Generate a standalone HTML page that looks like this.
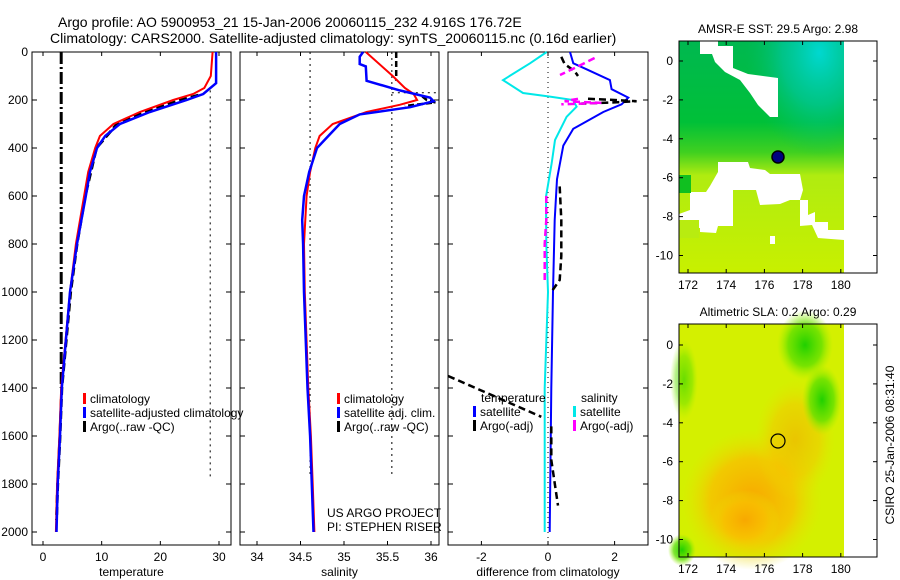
<!DOCTYPE html>
<html><head><meta charset="utf-8"><style>
html,body{margin:0;padding:0;background:#fff;}
svg{display:block;font-family:"Liberation Sans",sans-serif;}
</style></head><body>
<svg id="fig" width="900" height="580" viewBox="0 0 900 580">
<defs>
<linearGradient id="sstBase" x1="0" y1="0" x2="0" y2="1">
<stop offset="0" stop-color="#00b850"/><stop offset="0.35" stop-color="#00c038"/>
<stop offset="0.48" stop-color="#40d020"/><stop offset="0.58" stop-color="#b0ec10"/>
<stop offset="1" stop-color="#c8f000"/></linearGradient>
<radialGradient id="sstCyan" cx="0.85" cy="0.05" r="0.45"><stop offset="0" stop-color="#00d8d0"/><stop offset="0.5" stop-color="#00c8a0" stop-opacity="0.7"/><stop offset="1" stop-color="#00c060" stop-opacity="0"/></radialGradient>
<radialGradient id="slaOrange" cx="0.5" cy="0.5" r="0.5"><stop offset="0" stop-color="#f8a800"/><stop offset="0.6" stop-color="#f8c000" stop-opacity="0.8"/><stop offset="1" stop-color="#e8e000" stop-opacity="0"/></radialGradient>
<radialGradient id="slaGreen" cx="0.5" cy="0.5" r="0.5"><stop offset="0" stop-color="#20d000"/><stop offset="0.6" stop-color="#60e000" stop-opacity="0.8"/><stop offset="1" stop-color="#a0f000" stop-opacity="0"/></radialGradient>
</defs>
<g id="layer"></g>
</svg>
<script>
// ---------- data ----------
const climDepth = [0,100,150,175,200,250,300,350,400,500,600,800,1000,1400,1600,1800,2000];
const climTemp = [28.9,28.6,27.5,25.6,22.2,16.5,12.0,9.7,8.9,7.7,7.0,5.6,4.6,3.1,2.8,2.4,2.2];
const satTempDepth = [0,130,175,200,250,300,350,400,500,600,800,1000,1400,1600,1800,2000];
const satTemp = [29.5,29.5,27.3,24.5,18.2,13.1,10.6,9.2,8.0,7.3,5.8,4.6,3.2,2.9,2.5,2.3];
const argoTempDepth = [180,200,250,300,400,600,800,1000,1400,1600,1800,1950];
const argoTemp = [26.5,23.5,17.5,12.6,9.1,7.2,5.8,4.7,3.2,2.9,2.5,2.3];
const argoRawTempDepth = [0,1400];
const argoRawTemp = [3.1,3.1];
const climSalDepth = [0,100,150,175,200,220,250,300,350,400,500,600,800,1000,1400,1600,1800,2000];
const climSal = [35.25,35.56,35.70,35.80,35.84,35.64,35.26,34.87,34.72,34.67,34.61,34.57,34.54,34.55,34.59,34.62,34.64,34.66];
const satSalDepth = [0,20,50,60,120,160,190,205,230,260,300,350,400,500,600,700,800,1000,1400,1600,2000];
const satSal = [35.22,35.18,35.18,35.25,35.26,35.64,35.99,36.03,35.76,35.18,34.95,34.82,34.69,34.60,34.54,34.52,34.53,34.54,34.58,34.61,34.65];
const argoSalDepth = [0,120,null,185,200,210,225];
const argoSal = [35.6,35.6,null,35.9,35.95,36.05,35.7];
const dTsatDepth = [0,47,72,117,155,190,218,250,320,390,530,700,1000,1400,2000];
const dTsat = [0.66,0.76,1.16,1.86,1.91,2.41,2.21,1.66,0.76,0.46,0.27,0.2,0.15,0.1,0.05];
const dSsatDepth = [0,47,117,171,186,200,228,270,367,463,603,800,1000,1400,2000];
const dSsat = [-0.04,-0.54,-1.35,-0.75,0.06,0.75,0.86,0.56,0.21,0.11,-0.06,-0.05,0,-0.1,-0.1];
const dTargoDepth = [20,50,80,100,null,195,200,205,210,215,null,560,700,850,950,1000,null,1350,1520,null,1560,1700,1890];
const dTargo = [0.4,0.5,0.8,0.9,null,1.2,2.0,2.66,2.0,1.0,null,0.35,0.4,0.4,0.35,0.1,null,-3,-0.2,null,0.1,0.1,0.3];
const dSargoDepth = [25,60,96,null,195,205,212,218,null,600,700,800,950];
const dSargo = [1.4,0.9,0.36,null,0.9,0.5,1.6,0.4,null,-0.05,-0.05,-0.1,-0.1];
const depthTicks = [0,200,400,600,800,1000,1200,1400,1600,1800,2000];
const tempTicks = [0,10,20,30];
const salTicks = [34,34.5,35,35.5,36];
const diffTicks = [-2,0,2];
const lonTicks = [172,174,176,178,180];
const latTicks = [0,-2,-4,-6,-8,-10];

// ---------- helpers ----------
const NS='http://www.w3.org/2000/svg';
const layer=document.getElementById('layer');
function mk(tag,attrs,parent){const e=document.createElementNS(NS,tag);for(const k in attrs)e.setAttribute(k,attrs[k]);(parent||layer).appendChild(e);return e;}
const yD = d => 52 + d*0.24;
const xT = v => 43 + v*5.867;
const xS = v => 257 + (v-34)*87;
const xDf = v => 548 + v*33.3;
const panels=[{x0:32,x1:231,sx:xT,ticks:tempTicks,label:'temperature',name:'temperature-panel'},
 {x0:240,x1:439,sx:xS,ticks:salTicks,label:'salinity',name:'salinity-panel'},
 {x0:448,x1:648,sx:xDf,ticks:diffTicks,label:'difference from climatology',name:'difference-panel'}];
function line(depths,vals,sx,color,w,dash,name){
  let d='',pen=false;
  for(let i=0;i<depths.length;i++){
    if(depths[i]===null||vals[i]===null){pen=false;continue;}
    d+=(pen?'L':'M')+sx(vals[i]).toFixed(1)+' '+yD(depths[i]).toFixed(1);pen=true;}
  const p=mk('path',{d:d,fill:'none',stroke:color,'stroke-width':w});
  if(dash)p.setAttribute('stroke-dasharray',dash);
  
  
  return p;
}
function text(x,y,s,opts,name){
  const t=mk('text',Object.assign({x:x,y:y,'font-size':12,fill:'#000'},opts||{}));
  t.textContent=s;
  
  
  return t;
}

// titles
text(58,27,'Argo profile: AO 5900953_21 15-Jan-2006 20060115_232 4.916S 176.72E',{'font-size':14},'title-line-1');
text(50,43,'Climatology: CARS2000. Satellite-adjusted climatology: synTS_20060115.nc (0.16d earlier)',{'font-size':14},'title-line-2');

// panels
panels.forEach((p,pi)=>{
  const r=mk('rect',{x:p.x0,y:52,width:p.x1-p.x0,height:493,fill:'none',stroke:'#000','stroke-width':1});
  
  
  depthTicks.forEach(d=>{
    mk('line',{x1:p.x0,x2:p.x0+5,y1:yD(d),y2:yD(d),stroke:'#000'});
    mk('line',{x1:p.x1-5,x2:p.x1,y1:yD(d),y2:yD(d),stroke:'#000'});
    if(pi===0) text(28,yD(d)+4,String(d),{'text-anchor':'end'},'depth-tick-label');
  });
  p.ticks.forEach(v=>{
    const x=p.sx(v);
    mk('line',{x1:x,x2:x,y1:545,y2:541,stroke:'#000'});
    mk('line',{x1:x,x2:x,y1:52,y2:56,stroke:'#000'});
    text(x,561,String(v),{'text-anchor':'middle'},'x-tick-label');
  });
  text((p.x0+p.x1)/2,576,p.label,{'text-anchor':'middle'},'x-axis-title');
});

// reference dotted lines
mk('line',{x1:xT(28.5),x2:xT(28.5),y1:yD(160),y2:yD(1770),stroke:'#000','stroke-dasharray':'2 4'});
mk('line',{x1:xS(34.61),x2:xS(34.61),y1:yD(0),y2:yD(1770),stroke:'#000','stroke-dasharray':'2 4'});
mk('line',{x1:xS(35.55),x2:xS(35.55),y1:yD(0),y2:yD(1770),stroke:'#000','stroke-dasharray':'2 4'});
mk('line',{x1:xS(35.55),x2:439,y1:yD(170),y2:yD(170),stroke:'#000','stroke-dasharray':'2 4'});
mk('line',{x1:xDf(0),x2:xDf(0),y1:52,y2:545,stroke:'#000','stroke-dasharray':'1 4'});

// series
line(argoRawTempDepth,argoRawTemp,xT,'#000',3,'12 3 2 3','argo-raw-temperature');
line(argoTempDepth,argoTemp,xT,'#000',3,'8 4','argo-temperature');
line(climDepth,climTemp,xT,'#ff0000',2,null,'climatology-temperature');
line(satTempDepth,satTemp,xT,'#0000ff',2.5,null,'satellite-temperature');
line(argoSalDepth,argoSal,xS,'#000',2.5,'6 3','argo-salinity');
line(climSalDepth,climSal,xS,'#ff0000',2,null,'climatology-salinity');
line(satSalDepth,satSal,xS,'#0000ff',2.5,null,'satellite-salinity');
line(dSsatDepth,dSsat,xDf,'#00e8e8',2,null,'salinity-satellite-diff');
line(dTsatDepth,dTsat,xDf,'#0000ff',2,null,'temperature-satellite-diff');
line(dTargoDepth,dTargo,xDf,'#000',2.5,'7 4','temperature-argo-diff');
line(dSargoDepth,dSargo,xDf,'#ff00ff',2.5,'7 4','salinity-argo-diff');

// legends
function leg(x,y,color,label){
  if(color){const b=mk('rect',{x:x,y:y-10,width:3,height:11,fill:color});
    
    }
  text(x+7,y,label,{},'legend-entry');
}
leg(83,403,'#ff0000','climatology');leg(83,417,'#0000ff','satellite-adjusted climatology');leg(83,431,'#000','Argo(..raw -QC)');
leg(337,403,'#ff0000','climatology');leg(337,417,'#0000ff','satellite adj. clim.');leg(337,431,'#000','Argo(..raw -QC)');
text(481,402,'temperature',{},'legend-heading-temperature');
leg(473,416,'#0000ff','satellite');leg(473,430,'#000','Argo(-adj)');
text(581,402,'salinity',{},'legend-heading-salinity');
leg(573,416,'#00e8e8','satellite');leg(573,430,'#ff00ff','Argo(-adj)');
text(327,517,'US ARGO PROJECT',{},'project-label');
text(327,531,'PI: STEPHEN RISER',{},'pi-label');

// maps
const xLon = v => 688 + (v-172)*19.1;
function mapAxes(y0,y1,lat0,name,title){
  const yLat = v => lat0 + (-v)*19.45;
  text(778,y0-8,title,{'text-anchor':'middle'},name+'-title');
  const r=mk('rect',{x:679,y:y0,width:198,height:y1-y0,fill:'none',stroke:'#000'});
  
  
  lonTicks.forEach(v=>{const x=xLon(v);
    mk('line',{x1:x,x2:x,y1:y1,y2:y1-4,stroke:'#000'});mk('line',{x1:x,x2:x,y1:y0,y2:y0+4,stroke:'#000'});
    text(x,y1+16,String(v),{'text-anchor':'middle'},'lon-tick-label');});
  latTicks.forEach(v=>{const y=yLat(v);
    mk('line',{x1:679,x2:683,y1:y,y2:y,stroke:'#000'});mk('line',{x1:873,x2:877,y1:y,y2:y,stroke:'#000'});
    text(673,y+4,String(v),{'text-anchor':'end'},'lat-tick-label');});
}
// SST map fill
(function(){
  const g=mk('g',{});
  mk('rect',{x:679,y:41,width:165,height:232,fill:'url(#sstBase)'},g);
  mk('rect',{x:679,y:41,width:165,height:232,fill:'url(#sstCyan)'},g);
  const W='#fff';
  mk('polygon',{points:'700,41 718,41 718,46 733,46 733,68 748,74 778,78 778,117 770,117 758,105 750,93 740,80 725,72 715,62 712,54 700,54',fill:W},g);
  mk('polygon',{points:'718,162 748,162 750,168 765,170 770,174 800,174 803,190 800,200 790,200 780,204 760,205 756,190 733,190 733,226 718,226 716,233 700,232 700,228 679,228 679,214 690,210 690,192 706,192 710,186 718,172',fill:W},g);
  mk('polygon',{points:'800,200 808,200 808,215 815,212 815,222 828,222 828,230 844,230 844,240 818,238 812,225 800,226',fill:W},g);
  mk('rect',{x:770,y:236,width:5,height:8,fill:W},g);
  mk('rect',{x:844,y:41,width:33,height:232,fill:W},g);
  mk('rect',{x:679,y:220,width:20,height:18,fill:'#b8ec10'},g);
  mk('rect',{x:679,y:175,width:12,height:18,fill:'#10c020'},g);
  const c=mk('circle',{cx:778,cy:157,r:6,fill:'#000080',stroke:'#000','stroke-width':1.5},g);
  
})();
mapAxes(41,273,61,'sst-map','AMSR-E SST: 29.5 Argo: 2.98');
// SLA map fill
(function(){
  const g=mk('g',{});
  mk('rect',{x:679,y:324,width:165,height:233,fill:'#d4f000'},g);
  mk('ellipse',{cx:752,cy:500,rx:70,ry:70,fill:'url(#slaOrange)'},g);
  mk('ellipse',{cx:745,cy:520,rx:35,ry:30,fill:'url(#slaOrange)'},g);
  mk('ellipse',{cx:795,cy:440,rx:40,ry:60,fill:'url(#slaOrange)','opacity':0.6},g);
  mk('ellipse',{cx:805,cy:345,rx:28,ry:35,fill:'url(#slaGreen)'},g);
  mk('ellipse',{cx:822,cy:400,rx:20,ry:35,fill:'url(#slaGreen)'},g);
  mk('ellipse',{cx:684,cy:380,rx:14,ry:40,fill:'url(#slaGreen)','opacity':0.6},g);
  mk('ellipse',{cx:682,cy:550,rx:14,ry:16,fill:'url(#slaGreen)'},g);
  mk('rect',{x:844,y:324,width:33,height:233,fill:'#fff'},g);
  const c=mk('circle',{cx:778,cy:441,r:7,fill:'none',stroke:'#000','stroke-width':1.2},g);
  
})();
mapAxes(324,557,345,'sla-map','Altimetric SLA: 0.2 Argo: 0.29');
text(0,0,'CSIRO 25-Jan-2006 08:31:40',{'text-anchor':'middle',transform:'translate(894,445) rotate(-90)'},'csiro-timestamp');
</script>
</body></html>
